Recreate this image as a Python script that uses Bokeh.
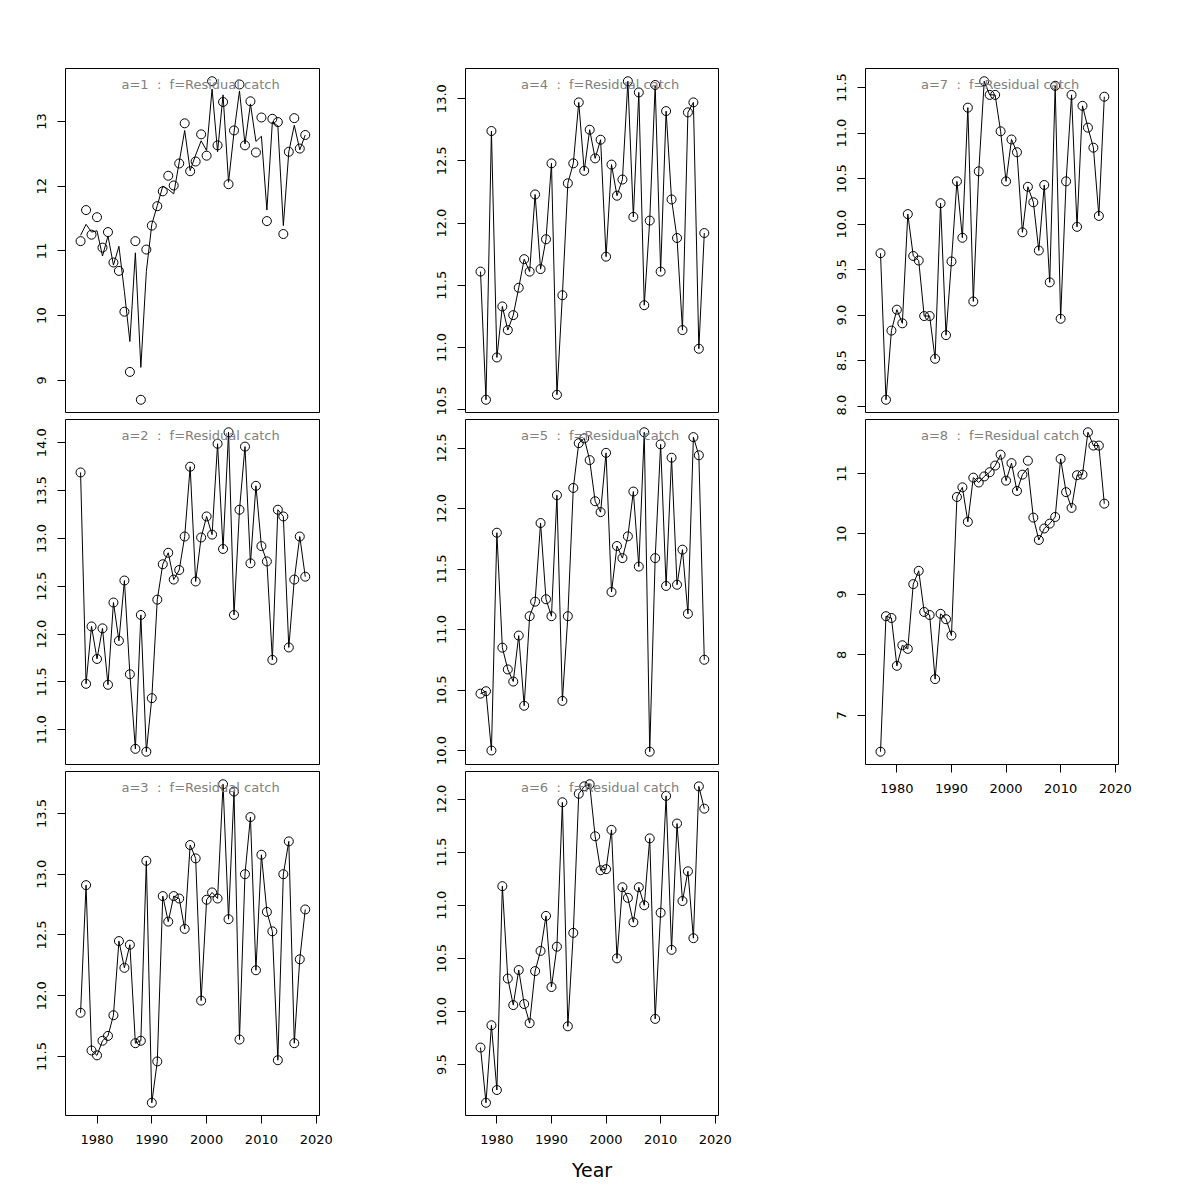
from bokeh.plotting import figure
from bokeh.layouts import row, column
from bokeh.models import Range1d, FixedTicker, PrintfTickFormatter, Label
from bokeh.embed import file_html
from bokeh.resources import INLINE

years = list(range(1977, 2019))

obs1 = [11.15, 11.63, 11.25, 11.52, 11.05, 11.29, 10.82, 10.69, 10.06, 9.13,
        11.15, 8.70, 11.02, 11.39, 11.69, 11.92, 12.16, 12.01, 12.35, 12.97,
        12.23, 12.38, 12.80, 12.47, 13.62, 12.63, 13.30, 12.03, 12.86, 13.57,
        12.63, 13.31, 12.52, 13.06, 11.46, 13.04, 12.99, 11.26, 12.53, 13.05,
        12.58, 12.79]
fit1 = [11.24, 11.41, 11.29, 11.31, 10.92, 11.23, 10.78, 11.07, 10.37, 9.60,
        10.97, 9.20, 10.68, 11.41, 11.70, 12.00, 11.95, 11.88, 12.37, 12.86,
        12.24, 12.48, 12.70, 12.55, 13.50, 12.53, 13.41, 12.06, 12.83, 13.47,
        12.65, 13.27, 12.69, 12.77, 11.63, 12.99, 12.93, 11.39, 12.53, 12.94,
        12.56, 12.79]
obs2 = [13.69, 11.48, 12.08, 11.74, 12.06, 11.47, 12.33, 11.93, 12.56, 11.58,
        10.80, 12.20, 10.77, 11.33, 12.36, 12.73, 12.85, 12.57, 12.67, 13.02,
        13.75, 12.55, 13.01, 13.23, 13.04, 13.99, 12.89, 14.11, 12.20, 13.30,
        13.96, 12.74, 13.55, 12.92, 12.76, 11.73, 13.30, 13.23, 11.86, 12.57,
        13.02, 12.60]
obs3 = [11.86, 12.91, 11.55, 11.51, 11.63, 11.67, 11.84, 12.45, 12.23, 12.42,
        11.61, 11.63, 13.11, 11.12, 11.46, 12.82, 12.61, 12.82, 12.80, 12.55,
        13.24, 13.13, 11.96, 12.79, 12.85, 12.80, 13.74, 12.63, 13.68, 11.64,
        13.00, 13.47, 12.21, 13.16, 12.69, 12.53, 11.47, 13.00, 13.27, 11.61,
        12.30, 12.71]
obs4 = [11.61, 10.58, 12.74, 10.92, 11.33, 11.14, 11.26, 11.48, 11.71, 11.61,
        12.23, 11.63, 11.87, 12.48, 10.62, 11.42, 12.32, 12.48, 12.97, 12.42,
        12.75, 12.52, 12.67, 11.73, 12.47, 12.22, 12.35, 13.14, 12.05, 13.05,
        11.34, 12.02, 13.11, 11.61, 12.90, 12.19, 11.88, 11.14, 12.89, 12.97,
        10.99, 11.92]
obs5 = [10.47, 10.49, 10.00, 11.80, 10.85, 10.67, 10.57, 10.95, 10.37, 11.11,
        11.23, 11.88, 11.25, 11.11, 12.11, 10.41, 11.11, 12.17, 12.54, 12.58,
        12.40, 12.06, 11.97, 12.46, 11.31, 11.69, 11.59, 11.77, 12.14, 11.52,
        12.63, 9.99, 11.59, 12.53, 11.36, 12.42, 11.37, 11.66, 11.13, 12.59,
        12.44, 10.75]
obs6 = [9.66, 9.14, 9.87, 9.26, 11.18, 10.31, 10.06, 10.39, 10.07, 9.89,
        10.38, 10.57, 10.90, 10.23, 10.61, 11.97, 9.86, 10.74, 12.05, 12.12,
        12.14, 11.65, 11.33, 11.34, 11.71, 10.50, 11.17, 11.07, 10.84, 11.17,
        11.00, 11.63, 9.93, 10.93, 12.03, 10.58, 11.77, 11.04, 11.32, 10.69,
        12.12, 11.91]
obs7 = [9.68, 8.07, 8.83, 9.06, 8.91, 10.11, 9.65, 9.60, 8.99, 8.99,
        8.52, 10.23, 8.78, 9.59, 10.47, 9.85, 11.28, 9.15, 10.58, 11.57,
        11.42, 11.42, 11.02, 10.47, 10.93, 10.79, 9.91, 10.41, 10.24, 9.71,
        10.43, 9.36, 11.52, 8.96, 10.47, 11.42, 9.97, 11.30, 11.06, 10.84,
        10.09, 11.40]
obs8 = [6.40, 8.64, 8.61, 7.82, 8.16, 8.10, 9.17, 9.39, 8.71, 8.66,
        7.60, 8.68, 8.59, 8.32, 10.61, 10.77, 10.20, 10.93, 10.85, 10.95,
        11.02, 11.13, 11.31, 10.88, 11.17, 10.71, 10.98, 11.21, 10.27, 9.90,
        10.09, 10.17, 10.28, 11.24, 10.69, 10.43, 10.97, 10.98, 11.68, 11.46,
        11.46, 10.50]
fit8 = [6.40, 8.64, 8.61, 7.82, 8.16, 8.10, 9.17, 9.39, 8.71, 8.66,
        7.60, 8.68, 8.59, 8.32, 10.61, 10.77, 10.20, 10.93, 10.85, 10.95,
        11.02, 11.13, 11.31, 10.88, 11.17, 10.71, 10.98, 11.09, 10.27, 9.90,
        10.09, 10.17, 10.28, 11.24, 10.69, 10.43, 10.97, 10.98, 11.68, 11.46,
        11.46, 10.50]

NB = "\u00a0"
titles = [("a=%d" + NB + " :" + NB + " f=Residual catch") % i for i in range(1, 9)]
x_ticks = [1980, 1990, 2000, 2010, 2020]
y_ticks = [
    [9, 10, 11, 12, 13],
    [11.0, 11.5, 12.0, 12.5, 13.0, 13.5, 14.0],
    [11.5, 12.0, 12.5, 13.0, 13.5],
    [10.5, 11.0, 11.5, 12.0, 12.5, 13.0],
    [10.0, 10.5, 11.0, 11.5, 12.0, 12.5],
    [9.5, 10.0, 10.5, 11.0, 11.5, 12.0],
    [8.0, 8.5, 9.0, 9.5, 10.0, 10.5, 11.0, 11.5],
    [7, 8, 9, 10, 11],
]
y_fmt = ["%d", "%.1f", "%.1f", "%.1f", "%.1f", "%.1f", "%.1f", "%d"]

COLS = [dict(width=400, left=65, right=81),
        dict(width=400, left=65, right=82),
        dict(width=380, left=65, right=62)]
FONT = "DejaVu Sans"


def make(idx, obs, fit, col, top, frame_h, bottom, xaxis, xlabel=None):
    c = COLS[col]
    lo = min(min(obs), min(fit))
    hi = max(max(obs), max(fit))
    pad = 0.04 * (hi - lo)
    y0, y1 = lo - pad, hi + pad
    p = figure(width=c["width"], height=top + frame_h + bottom,
               x_range=Range1d(1974.25, 2020.6), y_range=Range1d(y0, y1),
               output_backend="svg", toolbar_location=None,
               x_axis_location="below" if xaxis else None,
               min_border_left=c["left"], min_border_right=c["right"],
               min_border_top=top, min_border_bottom=bottom)
    p.xgrid.visible = False
    p.ygrid.visible = False
    p.outline_line_color = "black"
    p.outline_line_alpha = 1.0
    p.outline_line_width = 1
    p.background_fill_color = "white"
    p.border_fill_color = "white"

    axes = list(p.yaxis) + (list(p.xaxis) if xaxis else [])
    for ax in axes:
        ax.axis_line_color = None
        ax.minor_tick_line_color = None
        ax.major_tick_in = 0
        ax.major_tick_out = 8
        ax.major_tick_line_color = "black"
        ax.major_label_text_font = FONT
        ax.major_label_text_font_size = "13px"
        ax.major_label_text_color = "black"
        ax.major_label_standoff = 11
    p.yaxis.ticker = FixedTicker(ticks=y_ticks[idx])
    p.yaxis.formatter = PrintfTickFormatter(format=y_fmt[idx])
    p.yaxis.major_label_orientation = "vertical"
    if xaxis:
        p.xaxis.ticker = FixedTicker(ticks=x_ticks)
        if xlabel:
            p.xaxis.axis_label = xlabel
            p.xaxis.axis_label_text_font = FONT
            p.xaxis.axis_label_text_font_size = "19px"
            p.xaxis.axis_label_text_font_style = "normal"
            p.xaxis.axis_label_text_color = "black"
            p.xaxis.axis_label_standoff = 12

    p.line(years, fit, line_color="black", line_width=1)
    p.scatter(years, obs, marker="circle", size=9, fill_color=None,
              line_color="black", line_width=1)

    ty = y1 - 16.0 / frame_h * (y1 - y0)
    p.add_layout(Label(x=1998.9, y=ty, text=titles[idx], text_align="center",
                       text_baseline="middle", text_color="#808080",
                       text_font=FONT, text_font_size="13px"))
    return p


p1 = make(0, obs1, fit1, 0, 68, 344, 3, False)
p2 = make(1, obs2, obs2, 0, 4, 345, 3, False)
p3 = make(2, obs3, obs3, 0, 4, 344, 75, True)
p4 = make(3, obs4, obs4, 1, 68, 344, 3, False)
p5 = make(4, obs5, obs5, 1, 4, 345, 3, False)
p6 = make(5, obs6, obs6, 1, 4, 344, 75, True, "Year")
p7 = make(6, obs7, obs7, 2, 68, 344, 3, False)
p8 = make(7, obs8, fit8, 2, 4, 345, 40, True)

layout = row(column(p1, p2, p3), column(p4, p5, p6), column(p7, p8))

open("out.html", "w").write(file_html(layout, INLINE))
